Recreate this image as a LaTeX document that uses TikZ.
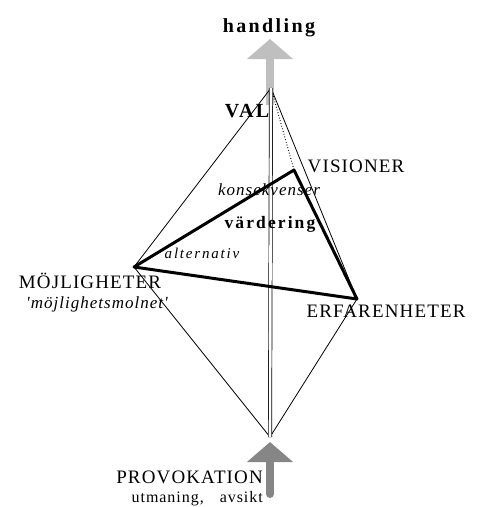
\documentclass[tikz,border=0pt]{standalone}
\usepackage{fontspec}
\setmainfont{Liberation Serif}
\newfontfamily\sperrfont[LetterSpace=6]{Liberation Serif}
\newfontfamily\glesfont[LetterSpace=12]{Liberation Serif}
\usetikzlibrary{arrows.meta, positioning}

\begin{document}
\begin{tikzpicture}[
        x=1pt, y=-1pt,
        etikett/.style={inner sep=0pt, anchor=base},
        versal/.style={etikett, font=\sperrfont\fontsize{19}{22}\selectfont},
        fet/.style={etikett, font=\glesfont\bfseries\fontsize{19}{22}\selectfont},
        kursiv/.style={etikett, font=\sperrfont\itshape\fontsize{17}{20}\selectfont},
        tunn/.style={line width=0.8pt},
        tjock/.style={line width=3pt, line join=round},
        axel/.style={double, double distance=2.6pt, line width=0.7pt},
        pil/.style={line width=8pt, -{Triangle[length=20pt, width=45pt]}}
    ]
    \useasboundingbox (0,0) rectangle (480,507);

    % hörn
    \coordinate (topp) at (271,88);
    \coordinate (botten) at (270,437);
    \coordinate (mojv) at (134,267);
    \coordinate (visv) at (294,170);
    \coordinate (erfv) at (357,299);

    % pilar
    \coordinate (hbas) at (270,105);
    \coordinate (hspets) at (270,39);
    \coordinate (pbas) at (270,494);
    \coordinate (pspets) at (270,442);
    \draw [pil, gray!50] (hbas) -- (hspets);
    \draw [pil, gray!95, line cap=round] (pbas) -- (pspets);

    % tetraedern
    \draw [tunn] (topp) -- (mojv);
    \draw [tunn] (topp) -- (erfv);
    \draw [tunn] (mojv) -- (botten);
    \draw [tunn] (erfv) -- (botten);
    \draw [tunn, dotted, line width=1pt] (topp) -- (visv);
    \draw [axel] (topp) -- (botten);
    \draw [tjock] (mojv) -- (visv) -- (erfv) -- cycle;

    % texter
    \node (handling) [fet, font=\glesfont\bfseries\fontsize{20}{24}\selectfont] at (269,32) {handling};
    \node (val) [fet, font=\glesfont\bfseries\fontsize{20}{24}\selectfont] at (247,117) {VAL};
    \node (visioner) [versal] at (356,172) {VISIONER};
    \node (konsekv) [kursiv] at (269,195) {konsekvenser};
    \node (vardering) [fet, font=\glesfont\bfseries\fontsize{17.5}{20}\selectfont] at (270,228) {värdering};
    \node (alternativ) [kursiv, font=\glesfont\itshape\fontsize{15}{18}\selectfont] at (202,258) {alternativ};
    \node (mojlig) [versal] at (90,288) {MÖJLIGHETER};
    \node (moln) [kursiv] at (97,308) {'möjlighetsmolnet'};
    \node (erfaren) [versal] at (386,317) {ERFARENHETER};
    \node (provok) [versal, anchor=base east, text depth=0pt] at (263,483) {PROVOKATION};
    \node (utman) [etikett, anchor=base east, text height=9pt, font=\sperrfont\fontsize{16}{19}\selectfont] at (263,502) {utmaning,\quad avsikt};
\end{tikzpicture}
\end{document}
